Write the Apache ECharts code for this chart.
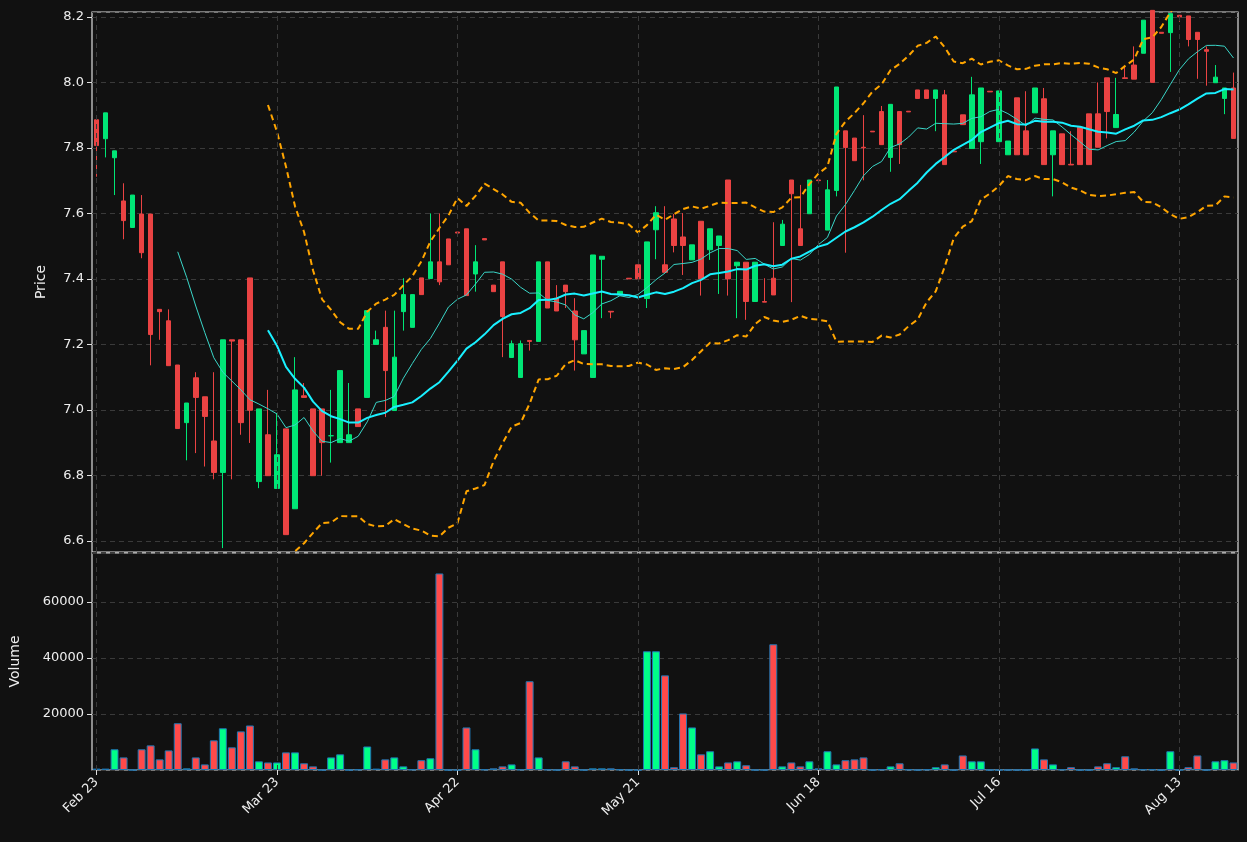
<!DOCTYPE html>
<html><head><meta charset="utf-8">
<script src="https://cdn.jsdelivr.net/npm/echarts@6/dist/echarts.min.js"></script>
<style>html,body{margin:0;padding:0;background:#111111;}#c{width:1247px;height:842px;}</style>
</head><body><div id="c"></div>
<script>
// OHLC (open, close, low, high)
const opens = [7.886,7.828,7.770,7.638,7.557,7.598,7.598,7.307,7.272,7.137,6.961,7.098,7.040,6.905,6.809,7.214,7.214,7.403,6.781,6.924,6.760,6.942,
6.698,7.043,7.003,7.003,6.921,6.900,6.900,7.003,7.038,7.200,7.252,6.998,7.300,7.252,7.403,7.401,7.452,7.522,7.543,7.553,7.415,
7.523,7.381,7.452,7.160,7.099,7.212,7.209,7.452,7.341,7.381,7.302,7.171,7.099,7.460,7.301,7.351,7.402,7.443,7.340,7.550,7.443,
7.583,7.528,7.458,7.576,7.489,7.502,7.702,7.440,7.451,7.331,7.331,7.402,7.502,7.702,7.553,7.599,7.702,7.549,7.670,7.852,7.830,
7.802,7.851,7.911,7.771,7.911,7.912,7.977,7.977,7.951,7.962,7.790,7.901,7.798,7.819,7.973,7.819,7.779,7.953,7.852,7.907,7.950,
7.779,7.843,7.750,7.863,7.904,7.904,8.014,7.862,8.014,8.053,8.089,8.220,8.153,8.152,8.205,8.203,8.153,8.100,7.999,7.951,7.983];
const closes = [7.807,7.907,7.791,7.578,7.656,7.480,7.230,7.300,7.135,6.943,7.021,7.038,6.980,6.809,7.214,7.210,6.961,6.999,7.003,6.799,6.863,6.619,
7.061,7.038,6.799,6.900,6.921,7.120,6.924,6.949,7.303,7.214,7.120,7.161,7.352,7.352,7.352,7.452,7.391,7.443,7.540,7.349,7.452,
7.519,7.361,7.285,7.202,7.202,7.209,7.452,7.311,7.302,7.361,7.214,7.242,7.473,7.469,7.299,7.362,7.400,7.400,7.513,7.602,7.420,
7.502,7.502,7.504,7.400,7.553,7.531,7.400,7.451,7.331,7.451,7.329,7.351,7.567,7.660,7.502,7.702,7.700,7.672,7.986,7.801,7.761,
7.800,7.849,7.810,7.933,7.810,7.910,7.951,7.951,7.977,7.749,7.788,7.871,7.962,7.983,7.971,7.974,7.821,7.779,7.779,7.983,7.749,
7.852,7.749,7.748,7.749,7.749,7.802,7.911,7.902,8.012,8.010,8.190,8.000,8.150,8.210,8.200,8.131,8.131,8.095,8.016,7.983,7.829];
const lows = [7.712,7.771,7.656,7.521,7.557,7.463,7.136,7.214,7.135,6.943,6.846,6.868,6.827,6.788,6.578,6.788,6.924,6.899,6.761,6.799,6.760,6.619,
6.698,7.038,6.799,6.799,6.839,6.900,6.900,6.949,7.038,7.200,6.978,6.998,7.242,7.252,7.352,7.401,7.381,7.443,7.540,7.349,7.361,
7.519,7.361,7.161,7.160,7.099,7.181,7.209,7.311,7.302,7.311,7.120,7.171,7.099,7.280,7.280,7.351,7.400,7.400,7.311,7.460,7.420,
7.481,7.412,7.458,7.349,7.458,7.354,7.349,7.280,7.275,7.331,7.329,7.351,7.502,7.329,7.502,7.599,7.692,7.549,7.652,7.480,7.761,
7.701,7.849,7.810,7.727,7.751,7.910,7.951,7.951,7.851,7.749,7.788,7.871,7.798,7.751,7.971,7.819,7.779,7.779,7.779,7.907,7.749,
7.652,7.749,7.748,7.749,7.749,7.802,7.829,7.862,8.012,8.010,8.089,8.000,8.150,8.032,8.185,8.110,8.011,7.990,7.999,7.903,7.829];
const highs = [7.886,7.907,7.791,7.692,7.656,7.656,7.598,7.307,7.307,7.137,7.021,7.115,7.040,7.115,7.214,7.214,7.214,7.403,7.003,7.061,6.990,6.942,
7.161,7.082,7.003,7.003,7.061,7.120,7.082,7.003,7.303,7.242,7.303,7.303,7.402,7.352,7.403,7.600,7.600,7.522,7.543,7.553,7.503,
7.523,7.381,7.452,7.212,7.212,7.212,7.452,7.452,7.381,7.381,7.341,7.242,7.473,7.469,7.301,7.362,7.402,7.443,7.513,7.622,7.622,
7.598,7.601,7.504,7.576,7.553,7.531,7.702,7.451,7.451,7.451,7.402,7.573,7.580,7.702,7.687,7.702,7.702,7.702,7.986,7.852,7.830,
7.900,7.851,7.928,7.933,7.911,7.912,7.977,7.977,7.977,7.977,7.790,7.901,8.017,7.983,7.973,7.974,7.821,7.953,7.973,7.983,7.983,
7.852,7.843,7.851,7.863,7.904,8.000,8.014,8.014,8.047,8.110,8.190,8.220,8.153,8.210,8.205,8.203,8.153,8.110,8.053,7.983,8.030];
const volumes = [500,500,7400,4500,0,7400,8800,3800,7000,16700,600,4500,2000,10600,14900,8100,13800,15900,3100,2700,2700,6300,
6300,2400,1300,0,4500,5600,0,200,8400,500,3800,4500,1300,200,3500,4200,70200,0,0,15200,7400,
200,600,1300,2000,200,31700,4500,200,0,3100,1300,0,600,600,600,200,0,0,42400,42400,33800,
1000,20200,15200,5600,6700,1300,2700,3100,1700,0,0,44900,1300,2700,1300,3100,600,6700,2000,3500,3800,
4500,0,200,1300,2400,200,0,200,1000,2000,0,5200,3100,3100,0,0,0,0,0,7700,3800,
2000,200,1000,0,0,1300,2400,1000,4900,600,200,200,0,6700,0,1000,5200,0,3100,3500,2700];
const tickLabels = ['Feb 23','Mar 23','Apr 22','May 21','Jun 18','Jul 16','Aug 13'];
const tickIndices = [0,20,40,60,80,100,120];

const N = closes.length;
const cats = closes.map((_, i) => String(i));
function ma(p){return closes.map((_,i)=>{if(i<p-1)return '-';let s=0;for(let k=i-p+1;k<=i;k++)s+=closes[k];return s/p;});}
const ma10 = ma(10), ma20 = ma(20);
const bbUp=[], bbLo=[];
for(let i=0;i<N;i++){ if(i<19){bbUp.push('-');bbLo.push('-');continue;}
  const m=ma20[i]; let s=0; for(let k=i-19;k<=i;k++) s+=(closes[k]-m)**2;
  const sd=Math.sqrt(s/19); bbUp.push(m+2*sd); bbLo.push(m-2*sd); }
const candle = closes.map((c,i)=>[opens[i],c,lows[i],highs[i]]);
const UP='#00e676', DN='#ea4343', VUP='#00ff88', VDN='#ff4a4a';
const vol = volumes.map((v,i)=>({value:v,itemStyle:{color: closes[i]>=opens[i]?VUP:VDN}}));
const tickSet = new Set(tickIndices);
const font = 'DejaVu Sans';
const vlines = tickIndices.map(i=>({xAxis:String(i)}));
const gridLineMark = {silent:true,symbol:'none',label:{show:false},lineStyle:{color:'#3a3a3a',type:[5,4],width:1},data:vlines,animation:false};

const chart = echarts.init(document.getElementById('c'));
chart.setOption({
  backgroundColor:'#111111', animation:false,
  grid:[{left:92,right:9,top:12,height:540,show:true,borderColor:'#e0e0e0',borderWidth:1.2,containLabel:false,outerBoundsMode:'none'},
        {left:92,right:9,top:553,height:217,show:true,borderColor:'#e0e0e0',borderWidth:1.2,containLabel:false,outerBoundsMode:'none'}],
  xAxis:[
    {type:'category',data:cats,gridIndex:0,boundaryGap:true,axisLine:{show:false},axisTick:{show:false},axisLabel:{show:false},splitLine:{show:false}},
    {type:'category',data:cats,gridIndex:1,boundaryGap:true,axisLine:{show:false},
     axisTick:{show:true,alignWithLabel:true,interval:(i)=>tickSet.has(i),lineStyle:{color:'#e0e0e0'},length:5},
     axisLabel:{interval:(i)=>tickSet.has(i),formatter:(v)=>tickLabels[tickIndices.indexOf(Number(v))]||'',rotate:45,color:'#eeeeee',fontFamily:font,fontSize:13,margin:10},
     splitLine:{show:false}}
  ],
  yAxis:[
    {type:'value',gridIndex:0,min:6.566,max:8.215,splitNumber:8,name:'Price',nameLocation:'middle',nameGap:44,nameTextStyle:{color:'#eeeeee',fontFamily:font,fontSize:14},
     axisLine:{show:false},axisTick:{show:true,lineStyle:{color:'#e0e0e0'}},
     axisLabel:{color:'#eeeeee',fontFamily:font,fontSize:13,showMinLabel:false,showMaxLabel:false,formatter:(v)=>v.toFixed(1)},
     splitLine:{lineStyle:{color:'#3a3a3a',type:[5,4]}}},
    {type:'value',gridIndex:1,min:0,max:77500,interval:20000,name:'Volume',nameLocation:'middle',nameGap:70,nameTextStyle:{color:'#eeeeee',fontFamily:font,fontSize:14},
     axisLine:{show:false},axisTick:{show:true,lineStyle:{color:'#e0e0e0'}},
     axisLabel:{color:'#eeeeee',fontFamily:font,fontSize:13,showMinLabel:false,showMaxLabel:false,formatter:(v)=>String(v)},
     splitLine:{lineStyle:{color:'#3a3a3a',type:[5,4]}}}
  ],
  series:[
    {type:'candlestick',xAxisIndex:0,yAxisIndex:0,data:candle,barWidth:5,clip:true,
     itemStyle:{color:UP,color0:DN,borderColor:UP,borderColor0:DN,borderWidth:1},markLine:gridLineMark},
    {type:'line',xAxisIndex:0,yAxisIndex:0,data:bbUp,showSymbol:false,lineStyle:{color:'#ffa500',width:2,type:[6,4]},z:3},
    {type:'line',xAxisIndex:0,yAxisIndex:0,data:bbLo,showSymbol:false,lineStyle:{color:'#ffa500',width:2,type:[6,4]},z:3},
    {type:'line',xAxisIndex:0,yAxisIndex:0,data:ma10,showSymbol:false,lineStyle:{color:'#3ad6c8',width:1},z:4},
    {type:'line',xAxisIndex:0,yAxisIndex:0,data:ma20,showSymbol:false,lineStyle:{color:'#19f0ff',width:2},z:4},
    {type:'bar',xAxisIndex:1,yAxisIndex:1,data:vol,barWidth:'88%',itemStyle:{borderColor:'#1f77b4',borderWidth:1},markLine:gridLineMark}
  ]
});
</script></body></html>
